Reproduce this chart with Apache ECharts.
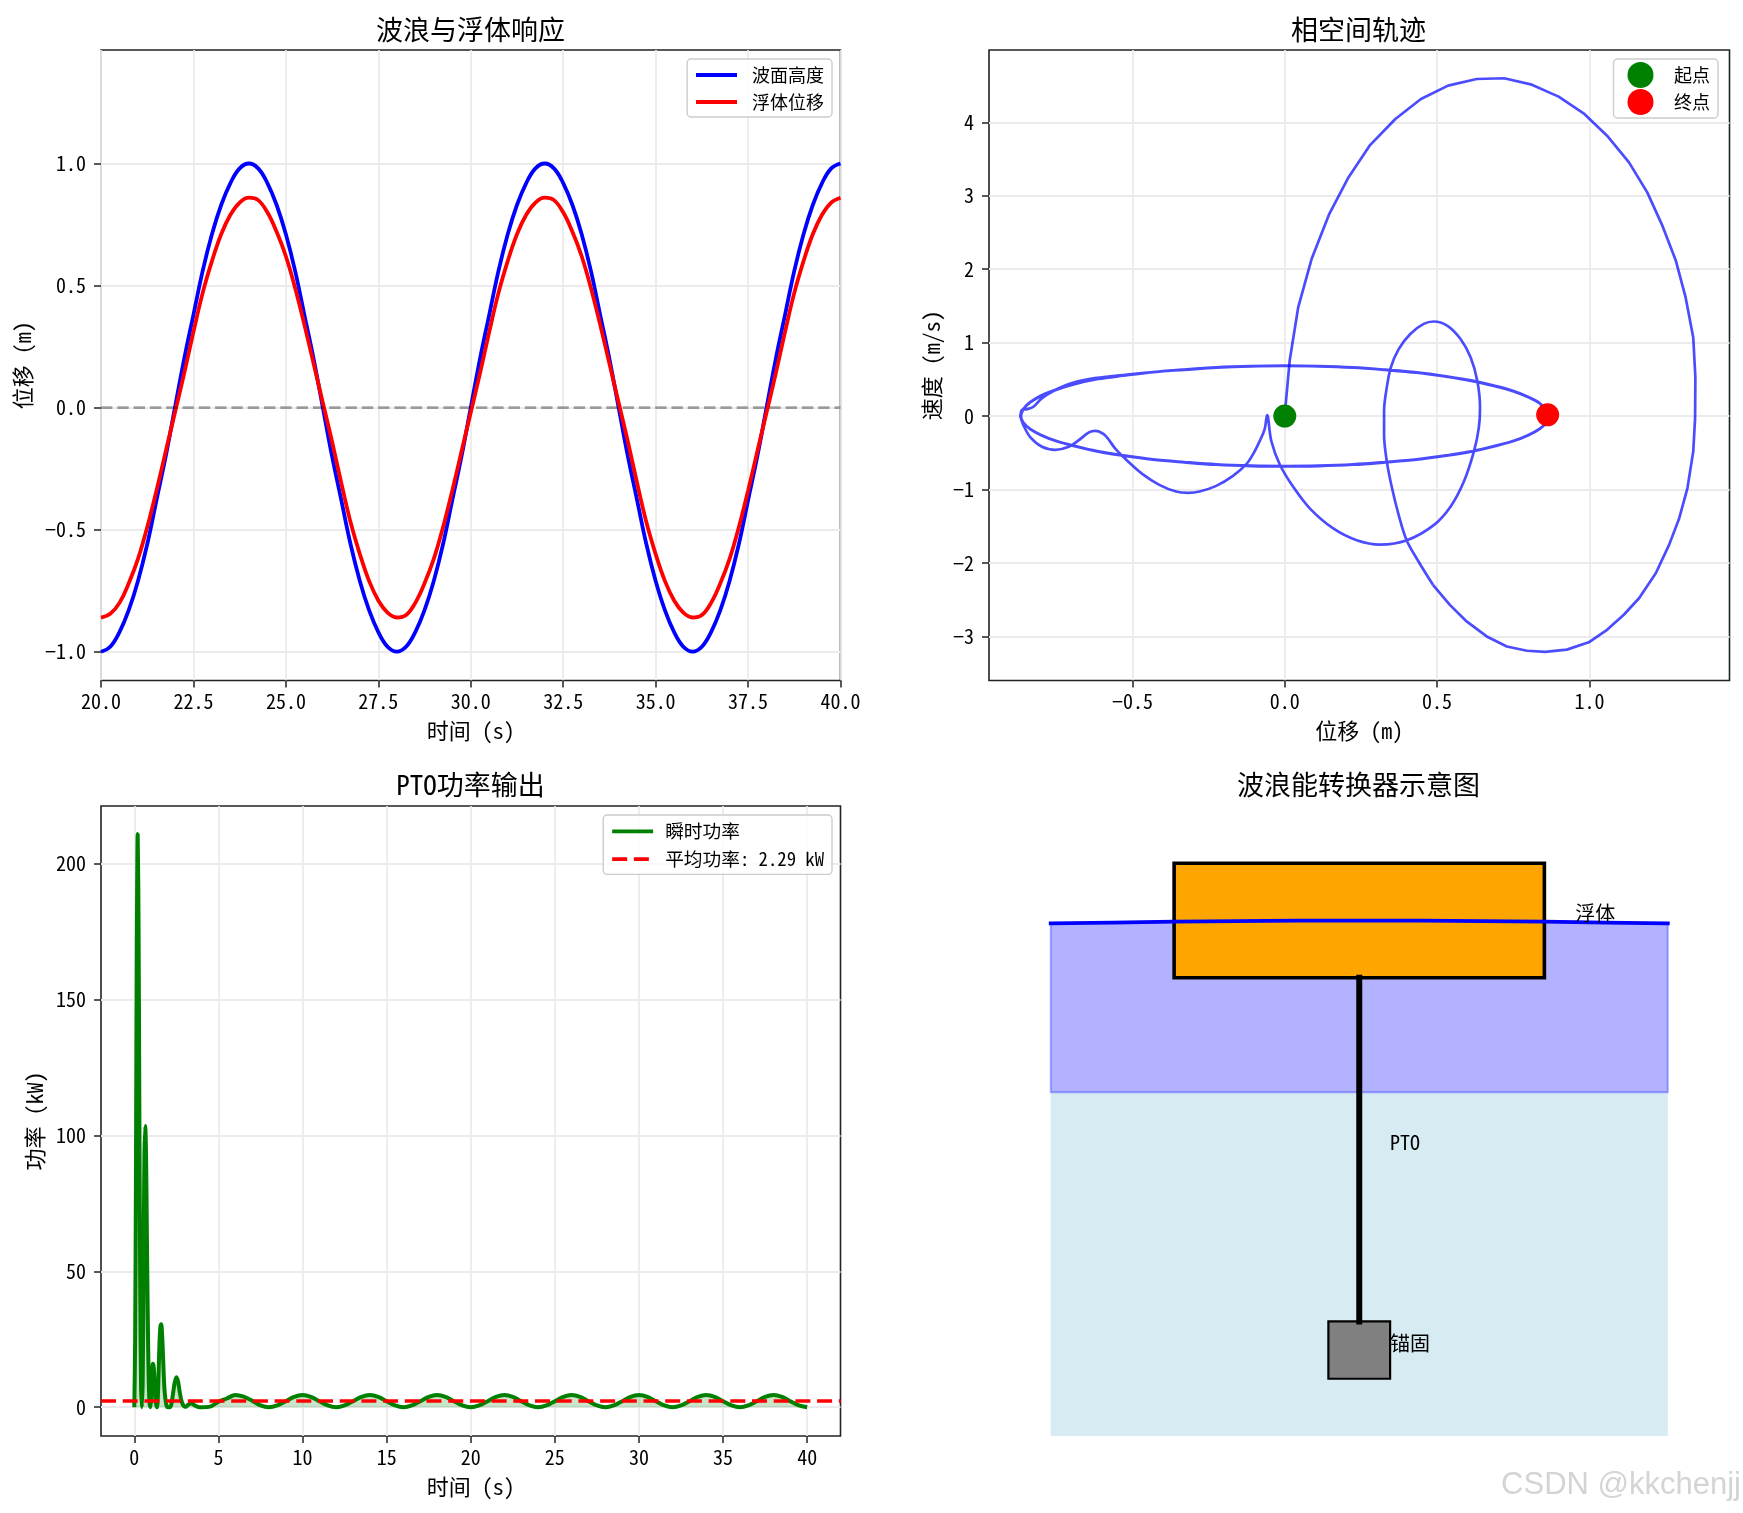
<!DOCTYPE html>
<html>
<head>
<meta charset="utf-8">
<script src="https://cdn.jsdelivr.net/npm/echarts@6/dist/echarts.min.js"></script>
<style>html,body{margin:0;padding:0;background:#fff}#main{width:1743px;height:1513px}</style>
</head>
<body>
<div id="main"></div>
<script>
// 波浪与浮体响应
var waveTime = [20,20.25,20.5,20.75,21,21.25,21.5,21.75,22,22.25,22.5,22.75,23,23.25,23.5,23.75,24,24.25,24.5,24.75,25,25.25,25.5,25.75,26,26.25,26.5,26.75,27,27.25,27.5,27.75,28,28.25,28.5,28.75,29,29.25,29.5,29.75,30,30.25,30.5,30.75,31,31.25,31.5,31.75,32,32.25,32.5,32.75,33,33.25,33.5,33.75,34,34.25,34.5,34.75,35,35.25,35.5,35.75,36,36.25,36.5,36.75,37,37.25,37.5,37.75,38,38.25,38.5,38.75,39,39.25,39.5,39.75,40];
var waveHeight = [-1,-.98,-.92,-.83,-.71,-.56,-.38,-.2,0,.2,.38,.56,.71,.83,.92,.98,1,.98,.92,.83,.71,.56,.38,.2,0,-.2,-.38,-.56,-.71,-.83,-.92,-.98,-1,-.98,-.92,-.83,-.71,-.56,-.38,-.2,0,.2,.38,.56,.71,.83,.92,.98,1,.98,.92,.83,.71,.56,.38,.2,0,-.2,-.38,-.56,-.71,-.83,-.92,-.98,-1,-.98,-.92,-.83,-.71,-.56,-.38,-.2,0,.2,.38,.56,.71,.83,.92,.98,1];
var floatDisp = [-.86,-.845,-.8,-.72,-.62,-.49,-.34,-.18,-.02,.14,.31,.47,.6,.71,.79,.84,.86,.85,.8,.72,.62,.49,.34,.18,.02,-.14,-.31,-.47,-.6,-.71,-.79,-.84,-.86,-.85,-.8,-.72,-.62,-.49,-.34,-.18,-.02,.14,.31,.47,.6,.71,.79,.84,.86,.85,.8,.72,.62,.49,.34,.18,.02,-.14,-.31,-.47,-.6,-.71,-.79,-.84,-.86,-.85,-.8,-.72,-.62,-.49,-.34,-.18,-.02,.14,.31,.47,.6,.71,.79,.84,.86];

// 相空间轨迹 [位移, 速度]：起始大环
var phaseBigLoop = [
  [0,0],[.002,.114],[.016,.753],[.044,1.48],[.088,2.138],[.145,2.742],[.209,3.25],[.28,3.69],[.363,4.045],[.447,4.318],[.536,4.5],[.63,4.59],[.72,4.6],
  [.811,4.513],[.899,4.35],[.981,4.123],[1.058,3.818],[1.13,3.455],[1.19,3.046],[1.24,2.59],[1.284,2.115],[1.316,1.616],[1.341,1.07],[1.348,.526],[1.347,-.03],
  [1.341,-.48],[1.322,-.98],[1.295,-1.39],[1.262,-1.75],[1.218,-2.14],[1.163,-2.48],[1.113,-2.705],[1.058,-2.91],[.998,-3.08],[.926,-3.18],[.855,-3.21],[.795,-3.195],
  [.729,-3.137],[.663,-3],[.597,-2.796],[.542,-2.57],[.487,-2.3]
];
// 之后的内环和稳态椭圆
var phaseSettle = [
  [.487,-2.3],[.44,-1.986],[.4,-1.69],[.374,-1.347],[.352,-.98],[.335,-.616],[.326,-.25],[.326,.07],[.333,.34],[.348,.66],
  [.374,.913],[.412,1.119],[.456,1.256],[.489,1.288],[.533,1.233],[.577,1.05],[.61,.8],[.632,.48],[.641,.114],[.637,-.16],[.621,-.48],[.588,-.89],[.544,-1.233],[.489,-1.484],
  [.401,-1.69],[.313,-1.749],[.236,-1.69],[.159,-1.53],[.082,-1.256],[.027,-.959],[-.016,-.662],[-.044,-.342],[-.058,.014],
  [-.066,-.177],[-.082,-.337],[-.104,-.518],[-.126,-.654],[-.17,-.813],[-.225,-.95],[-.28,-1.027],[-.317,-1.044],[-.357,-1.027],[-.412,-.936],[-.467,-.79],[-.511,-.632],[-.555,-.45],[-.588,-.269],
  [-.61,-.21],[-.623,-.2],[-.643,-.222],[-.676,-.327],[-.709,-.418],[-.753,-.459],[-.797,-.418],[-.835,-.29],[-.857,-.132],[-.867,.004],[-.863,.086],[-.846,.095],[-.824,.131],[-.797,.245],[-.758,.345],[-.709,.436],[-.643,.504],[-.5,.572],
  [-.43,.6],[-.33,.635],[-.224,.665],[-.11,.682],[0,.688],[.11,.682],[.224,.664],[.33,.632],[.433,.595],[.53,.542],[.612,.486],[.69,.412],[.749,.345],[.8,.262],[.836,.178],[.858,.09],[.865,0],
  [.858,-.09],[.836,-.177],[.8,-.26],[.749,-.343],[.69,-.41],[.612,-.484],[.53,-.54],[.433,-.593],[.33,-.63],[.224,-.662],[.11,-.68],[0,-.685],[-.11,-.68],[-.224,-.662],[-.33,-.63],[-.433,-.593],[-.53,-.54],[-.612,-.484],[-.69,-.41],[-.749,-.343],[-.8,-.26],[-.836,-.177],[-.858,-.09],[-.868,0],
  [-.858,.1],[-.836,.19],[-.8,.28],[-.749,.365],[-.69,.44],[-.612,.51],[-.53,.555],[-.433,.6],[-.33,.63],[-.224,.66],[-.11,.678],[0,.683],[.11,.678],[.224,.66],[.33,.628],[.433,.59],[.53,.537],[.612,.48],[.69,.407],[.749,.34],[.8,.257],[.836,.175],[.858,.088],[.863,0],
  [.858,-.088],[.836,-.175],[.8,-.257],[.749,-.34],[.69,-.406],[.612,-.48],[.53,-.535],[.433,-.588],[.33,-.625],[.224,-.657],[.11,-.675],[0,-.68],[-.11,-.675],[-.224,-.657],[-.33,-.625],[-.433,-.588],[-.53,-.535],[-.612,-.48],[-.69,-.406],[-.749,-.34],[-.8,-.257],[-.836,-.175],[-.858,-.088],[-.866,0],
  [-.858,.09],[-.836,.185],[-.8,.275],[-.749,.36],[-.69,.435],[-.612,.505],[-.53,.55],[-.433,.598],[-.33,.634],[-.224,.664],[-.11,.68],[0,.686],[.11,.681],[.224,.663],[.33,.631],[.433,.593],[.53,.54],[.612,.484],[.69,.41],[.749,.343],[.8,.26],[.836,.177],[.863,.018]
];
var startPoint = [0, 0];
var endPoint = [.863, .018];

// PTO功率
var powerTime = [0,.05,.1,.15,.2,.25,.3,.35,.4,.45,.5,.55,.6,.65,.7,.75,.8,.85,.9,.95,1,1.05,1.1,1.15,1.2,1.25,1.3,1.35,1.4,1.45,1.5,1.55,1.6,1.65,1.7,1.75,1.8,1.9,2,2.1,2.2,2.3,2.4,2.5,2.6,2.7,2.8,2.9,3,3.1,3.2,3.4,3.6,3.8,4,4.5,5,5.5,6,6.5,7,7.5,8,8.5,9,9.5,10,10.5,11,11.5,12,12.5,13,13.5,14,14.5,15,15.5,16,16.5,17,17.5,18,18.5,19,19.5,20,20.5,21,21.5,22,22.5,23,23.5,24,24.5,25,25.5,26,26.5,27,27.5,28,28.5,29,29.5,30,30.5,31,31.5,32,32.5,33,33.5,34,34.5,35,35.5,36,36.5,37,37.5,38,38.5,39,39.5,40];
var powerValue = [0,25,90,170,211,180,110,45,8,0,10,50,92,103.5,92,62,33,12,2,0,3,11,16,15,10,4,1,0,4,14,24,29.5,30.5,27,20,12,6,1,0,0,1,5,9,11,9.5,5.5,2.5,.8,.2,.3,.9,1.5,.6,.1,0,.2,2,3.2,4.5,3.9,2.4,.7,0,.65,2.2,3.8,4.45,3.8,2.2,.65,0,.65,2.2,3.8,4.45,3.8,2.2,.65,0,.65,2.2,3.8,4.45,3.8,2.2,.65,0,.65,2.2,3.8,4.45,3.8,2.2,.65,0,.65,2.2,3.8,4.45,3.8,2.2,.65,0,.65,2.2,3.8,4.45,3.8,2.2,.65,0,.65,2.2,3.8,4.45,3.8,2.2,.65,0,.65,2.2,3.8,4.45,3.8,2.2,.65,0];
var meanPower = 2.29;

// 刻度
var waveXTicks = [20,22.5,25,27.5,30,32.5,35,37.5,40];
var waveYTicks = [-1,-.5,0,.5,1];
var phaseXTicks = [-.5,0,.5,1];
var phaseYTicks = [-3,-2,-1,0,1,2,3,4];
var powerXTicks = [0,5,10,15,20,25,30,35,40];
var powerYTicks = [0,50,100,150,200];

// 示意图
var surfaceX = [-5,-4,-3,-2,-1,0,1,2,3,4,5];
var surfaceY = [-.05,-.035,-.02,-.01,-.003,0,-.003,-.01,-.02,-.035,-.05];
var deepWater = [[-5,-3],[5,-3],[5,-9],[-5,-9]];
var floatBox = [[-3,1],[3,1],[3,-1],[-3,-1]];
var anchorBox = [[-.5,-7],[.5,-7],[.5,-8],[-.5,-8]];
var ptoLine = [[0,-1],[0,-7]];

var FONT = '"Noto Sans Mono CJK SC","Noto Sans CJK SC","Liberation Mono",monospace';
var grids = [
  {left: 101, top: 50, width: 739.5, height: 630.5},
  {left: 989, top: 50, width: 740.5, height: 630.5},
  {left: 101, top: 806, width: 739.5, height: 630},
  {left: 989, top: 806, width: 740.5, height: 630}
];
grids.slice(0, 3).forEach(function (g) {
  g.show = true;
  g.borderColor = '#222';
  g.borderWidth = 1.6;
  g.backgroundColor = '#fff';
});
grids[3].show = false;

function minusFmt(digits) {
  return function (v) {
    return (digits ? v.toFixed(digits) : String(v)).replace('-', '\u2212');
  };
}
function makeAxis(idx, min, max, ticks, digits, name, gap, margin) {
  return {
    type: 'value', gridIndex: idx, min: min, max: max,
    name: name, nameLocation: 'middle', nameGap: gap,
    nameTextStyle: {fontFamily: FONT, fontSize: 22, color: '#000'},
    axisLine: {show: false, onZero: false},
    axisTick: {show: true, length: 7, customValues: ticks, lineStyle: {color: '#222', width: 1.5}},
    axisLabel: {show: true, customValues: ticks, margin: margin, fontFamily: FONT, fontSize: 20, color: '#000',
      formatter: minusFmt(digits), showMinLabel: true, showMaxLabel: true, hideOverlap: false},
    splitLine: {show: true, lineStyle: {color: '#ebebeb', width: 1.8}}
  };
}
function makeTitle(text, cx, y) {
  return {text: text, left: cx, top: y, textAlign: 'center',
    textStyle: {fontFamily: FONT, fontSize: 27, fontWeight: 'normal', color: '#000'}};
}
function makeLegend(names, right, top, itemH, gap, fontSize, textPad, markerOpacity, padding) {
  return {data: names, right: right, top: top, orient: 'vertical', itemWidth: 41, itemHeight: itemH, itemGap: gap,
    padding: padding, backgroundColor: 'rgba(255,255,255,.8)', borderColor: '#ccc', borderWidth: 1.4, borderRadius: 4,
    itemStyle: {opacity: markerOpacity}, lineStyle: {width: 3.8},
    textStyle: {fontFamily: FONT, fontSize: fontSize, color: '#000', padding: [0, 0, 0, textPad]}};
}
function zipXY(xs, ys) {
  return xs.map(function (x, i) { return [x, ys[i]]; });
}

var shapes = [
  {pts: deepWater, fill: 'rgba(173,216,230,.5)', stroke: 'none', lw: 0},
  {pts: zipXY(surfaceX, surfaceY).concat([[5,-3],[-5,-3]]), fill: 'rgba(0,0,255,.3)', stroke: 'rgba(0,0,255,.3)', lw: 2},
  {pts: anchorBox, fill: '#808080', stroke: '#000', lw: 2.2},
  {pts: floatBox, fill: '#ffa500', stroke: '#000', lw: 3.6}
];
var notes = [
  {text: '浮体', x: 3.5, y: 0},
  {text: 'PTO', x: .5, y: -4},
  {text: '锚固', x: .5, y: -7.5}
];

var chart = echarts.init(document.getElementById('main'), null, {renderer: 'canvas'});
var option = {
  animation: false,
  backgroundColor: '#fff',
  textStyle: {fontFamily: FONT},
  title: [
    makeTitle('波浪与浮体响应', 465.5, 11),
    makeTitle('相空间轨迹', 1353.5, 11),
    makeTitle('PTO功率输出', 465.5, 766),
    makeTitle('波浪能转换器示意图', 1353.5, 766)
  ],
  grid: grids,
  legend: [
    makeLegend(['波面高度', '浮体位移'], 911, 59, 18, 9, 18, 10, 0, [7, 8, 6, 7]),
    makeLegend(['起点', '终点'], 25, 59, 26, 1, 18, 8, 1, [3, 8, 3, 14]),
    makeLegend(['瞬时功率', '平均功率: 2.29 kW'], 911, 815, 18, 9, 18.7, 7, 0, [7, 8, 6, 7])
  ],
  xAxis: [
    makeAxis(0, 20, 40, waveXTicks, 1, '时间 (s)', 39, 11),
    makeAxis(1, -.971, 1.46, phaseXTicks, 1, '位移 (m)', 39, 11),
    makeAxis(2, -1.98, 41.98, powerXTicks, 0, '时间 (s)', 40, 11),
    {type: 'value', gridIndex: 3, min: -6, max: 6, show: false}
  ],
  yAxis: [
    makeAxis(0, -1.118, 1.465, waveYTicks, 1, '位移 (m)', 67, 15),
    makeAxis(1, -3.6, 4.985, phaseYTicks, 0, '速度 (m/s)', 46, 15),
    makeAxis(2, -10.6, 221.3, powerYTicks, 0, '功率 (kW)', 55, 15),
    {type: 'value', gridIndex: 3, min: -9, max: 2, show: false}
  ],
  series: [
    {name: '波面高度', type: 'line', xAxisIndex: 0, yAxisIndex: 0, data: zipXY(waveTime, waveHeight), smooth: .4, symbol: 'none',
      lineStyle: {color: '#0000ff', width: 3.8}, itemStyle: {color: '#0000ff'}},
    {name: '浮体位移', type: 'line', xAxisIndex: 0, yAxisIndex: 0, data: zipXY(waveTime, floatDisp), smooth: .4, symbol: 'none',
      lineStyle: {color: '#ff0000', width: 3.8}, itemStyle: {color: '#ff0000'}},
    {name: 'zero', type: 'line', xAxisIndex: 0, yAxisIndex: 0, data: [[20, 0], [40, 0]], symbol: 'none',
      lineStyle: {color: 'rgba(0,0,0,.35)', width: 2.6, type: [11.4, 4.9]}, silent: true},

    {name: '轨迹1', type: 'line', xAxisIndex: 1, yAxisIndex: 1, data: phaseBigLoop, smooth: false, symbol: 'none',
      lineStyle: {color: 'rgba(0,0,255,.7)', width: 2.7, join: 'round'}},
    {name: '轨迹2', type: 'line', xAxisIndex: 1, yAxisIndex: 1, data: phaseSettle, smooth: .35, symbol: 'none',
      lineStyle: {color: 'rgba(0,0,255,.7)', width: 2.7, join: 'round'}},
    {name: '起点', type: 'scatter', xAxisIndex: 1, yAxisIndex: 1, data: [startPoint], symbolSize: 23, itemStyle: {color: '#008000', opacity: 1}, z: 5},
    {name: '终点', type: 'scatter', xAxisIndex: 1, yAxisIndex: 1, data: [endPoint], symbolSize: 23, itemStyle: {color: '#ff0000', opacity: 1}, z: 5},

    {name: '瞬时功率', type: 'line', xAxisIndex: 2, yAxisIndex: 2, data: zipXY(powerTime, powerValue), smooth: .3, symbol: 'none',
      lineStyle: {color: '#008000', width: 4}, itemStyle: {color: '#008000'}, areaStyle: {color: 'rgba(0,128,0,.3)', origin: 0}},
    {name: '平均功率: 2.29 kW', type: 'line', xAxisIndex: 2, yAxisIndex: 2, data: [[-1.98, meanPower], [41.98, meanPower]], symbol: 'none',
      lineStyle: {color: '#ff0000', width: 3.6, type: [15, 6.7]}, itemStyle: {color: '#ff0000'}, z: 3},

    {type: 'custom', xAxisIndex: 3, yAxisIndex: 3, coordinateSystem: 'cartesian2d', clip: false, silent: true, z: 2,
      data: shapes.map(function (s, i) { return [i]; }),
      encode: {x: 0},
      renderItem: function (params, api) {
        var s = shapes[params.dataIndex];
        return {type: 'polygon', shape: {points: s.pts.map(function (p) { return api.coord(p); })},
          style: {fill: s.fill, stroke: s.stroke, lineWidth: s.lw}};
      }},
    {name: 'PTO杆', type: 'line', xAxisIndex: 3, yAxisIndex: 3, data: ptoLine, symbol: 'none', z: 3,
      lineStyle: {color: '#000', width: 6, cap: 'square'}},
    {name: '水面', type: 'line', xAxisIndex: 3, yAxisIndex: 3, data: zipXY(surfaceX, surfaceY), smooth: .5, symbol: 'none', z: 4,
      lineStyle: {color: '#0000ff', width: 3.8, cap: 'square'}},
    {type: 'custom', xAxisIndex: 3, yAxisIndex: 3, coordinateSystem: 'cartesian2d', clip: false, silent: true, z: 5,
      data: notes.map(function (s, i) { return [i]; }),
      encode: {x: 0},
      renderItem: function (params, api) {
        var n = notes[params.dataIndex], c = api.coord([n.x, n.y]);
        return {type: 'text', x: c[0], y: c[1] + 3,
          style: {text: n.text, fontFamily: FONT, fontSize: 20, fill: '#000', align: 'left', verticalAlign: 'bottom'}};
      }}
  ],
  graphic: [
    {type: 'text', right: 2, top: 1470, z: 100,
      style: {text: 'CSDN @kkchenjj', fontFamily: '"Liberation Sans",Arial,sans-serif', fontSize: 31, fill: '#d4d4d4',
        shadowColor: 'rgba(120,120,120,.5)', shadowBlur: 2, shadowOffsetX: 1, shadowOffsetY: 1}}
  ]
};
chart.setOption(option);
</script>
</body>
</html>
